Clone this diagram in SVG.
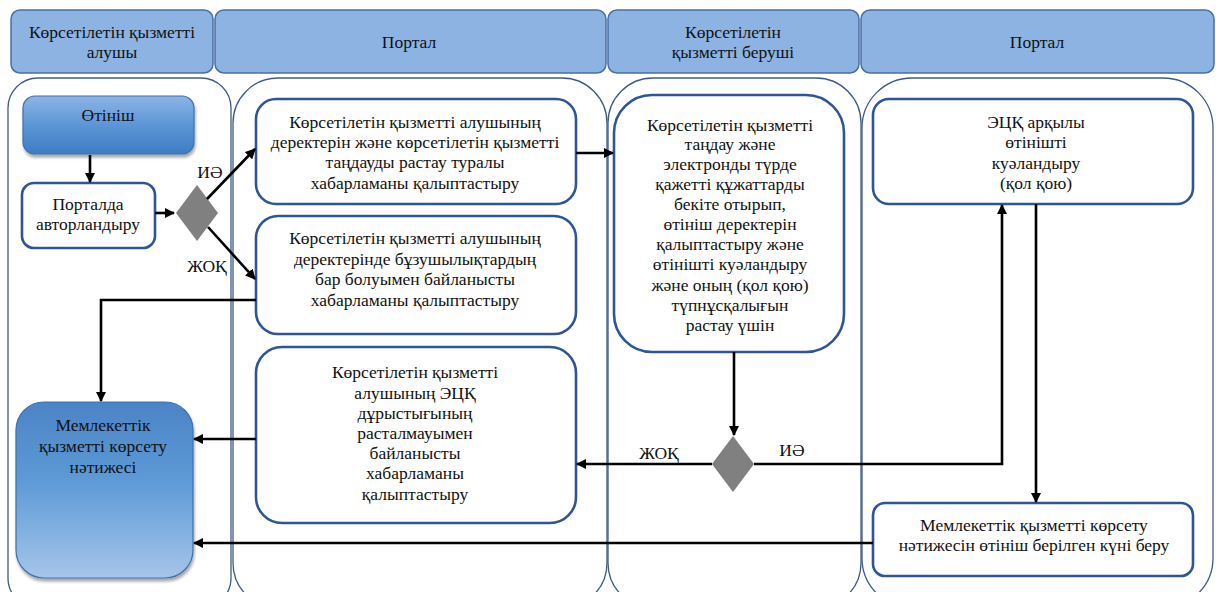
<svg xmlns="http://www.w3.org/2000/svg" width="1216" height="592" viewBox="0 0 1216 592" font-family="'Liberation Serif', 'DejaVu Serif', serif">
<style>
text{font-family:'Liberation Serif','DejaVu Serif',serif;font-size:17.5px;fill:#111;text-anchor:middle;dominant-baseline:central}
.hdr{fill:#8db3e2;stroke:#4a6fa5;stroke-width:1.5}
.lane{fill:#fff;stroke:#3e5a86;stroke-width:1.3}
.box{fill:#fff;stroke:#2f5597;stroke-width:2.6}
.dia{fill:#808080;stroke:none}
.con{fill:none;stroke:#000;stroke-width:2.6}
</style>
<defs>
<marker id="ah" viewBox="0 0 10 10" refX="9" refY="5" markerWidth="4" markerHeight="4" orient="auto" markerUnits="strokeWidth">
<path d="M0,0 L10,5 L0,10 z" fill="#000"/>
</marker>
<linearGradient id="g1" x1="0" y1="0" x2="0" y2="1">
<stop offset="0" stop-color="#8cb5e5"/>
<stop offset="0.5" stop-color="#5c96d6"/>
<stop offset="1" stop-color="#3f7cc2"/>
</linearGradient>
<linearGradient id="g2" x1="0" y1="0" x2="0" y2="1">
<stop offset="0" stop-color="#4c84c6"/>
<stop offset="0.45" stop-color="#5d9ad6"/>
<stop offset="1" stop-color="#a6c5ea"/>
</linearGradient>
<filter id="sh" x="-10%" y="-10%" width="130%" height="130%">
<feDropShadow dx="1" dy="3" stdDeviation="1.5" flood-color="#000" flood-opacity="0.35"/>
</filter>
</defs>

<g id="headers">
<rect class="hdr" x="11" y="10" width="202" height="63" rx="9"/>
<text x="112" y="32">Көрсетілетін қызметті</text>
<text x="112" y="52">алушы</text>
<rect class="hdr" x="215" y="10" width="391" height="63" rx="9"/>
<text x="409" y="42">Портал</text>
<rect class="hdr" x="608" y="10" width="251" height="63" rx="9"/>
<text x="733" y="32">Көрсетілетін</text>
<text x="733" y="52">қызметті беруші</text>
<rect class="hdr" x="861" y="10" width="353" height="63" rx="9"/>
<text x="1037" y="42">Портал</text>
</g>

<g id="lanes">
<rect class="lane" x="8" y="78" width="223" height="530" rx="30"/>
<rect class="lane" x="233" y="78" width="374" height="530" rx="45"/>
<rect class="lane" x="608" y="78" width="253" height="530" rx="45"/>
<rect class="lane" x="862" y="78" width="351" height="530" rx="50"/>
</g>

<g id="n-otinish">
<rect x="23" y="96" width="171" height="58" rx="12" fill="url(#g1)" stroke="#3d70b0" stroke-width="1.2" filter="url(#sh)"/>
<text x="108" y="115">Өтініш</text>
</g>
<g id="n-portalda">
<rect class="box" x="22" y="183" width="133" height="65" rx="12"/>
<text x="88" y="204">Порталда</text>
<text x="88" y="224">авторландыру</text>
</g>
<g id="n-d1">
<polygon class="dia" points="197,185 218,213 197,241 176,213"/>
</g>
<g id="n-result">
<rect x="16" y="402" width="177" height="176" rx="28" fill="url(#g2)" stroke="#3d70b0" stroke-width="1.2" filter="url(#sh)"/>
<text x="103" y="425">Мемлекеттік</text>
<text x="103" y="446">қызметті көрсету</text>
<text x="103" y="467">нәтижесі</text>
</g>
<g id="n-a">
<rect class="box" x="256" y="99" width="320" height="105" rx="20"/>
<text x="415" y="122">Көрсетілетін қызметті алушының</text>
<text x="415" y="142">деректерін және көрсетілетін қызметті</text>
<text x="415" y="162">таңдауды растау туралы</text>
<text x="415" y="183">хабарламаны қалыптастыру</text>
</g>
<g id="n-b">
<rect class="box" x="256" y="216" width="320" height="118" rx="22"/>
<text x="415" y="238">Көрсетілетін қызметті алушының</text>
<text x="415" y="259">деректерінде бұзушылықтардың</text>
<text x="415" y="279">бар болуымен байланысты</text>
<text x="415" y="300">хабарламаны қалыптастыру</text>
</g>
<g id="n-c">
<rect class="box" x="256" y="347" width="320" height="176" rx="26"/>
<text x="415" y="372">Көрсетілетін қызметті</text>
<text x="415" y="393">алушының ЭЦҚ</text>
<text x="415" y="413">дұрыстығының</text>
<text x="415" y="433">расталмауымен</text>
<text x="415" y="453">байланысты</text>
<text x="415" y="473">хабарламаны</text>
<text x="415" y="494">қалыптастыру</text>
</g>
<g id="n-d">
<rect class="box" x="614" y="95" width="230" height="257" rx="38"/>
<text x="730" y="125">Көрсетілетін қызметті</text>
<text x="730" y="144">таңдау және</text>
<text x="730" y="164">электронды түрде</text>
<text x="730" y="184">қажетті құжаттарды</text>
<text x="730" y="204">бекіте отырып,</text>
<text x="730" y="224">өтініш деректерін</text>
<text x="730" y="244">қалыптастыру және</text>
<text x="730" y="264">өтінішті куәландыру</text>
<text x="730" y="285">және оның (қол қою)</text>
<text x="730" y="305">түпнұсқалығын</text>
<text x="730" y="325">растау үшін</text>
</g>
<g id="n-d2">
<polygon class="dia" points="733,436 754,464 733,492 712,464"/>
</g>
<g id="n-e">
<rect class="box" x="873" y="99" width="320" height="105" rx="16"/>
<text x="1036" y="122">ЭЦҚ арқылы</text>
<text x="1036" y="142">өтінішті</text>
<text x="1036" y="163">куәландыру</text>
<text x="1036" y="183">(қол қою)</text>
</g>
<g id="n-f">
<rect class="box" x="873" y="503" width="320" height="73" rx="12"/>
<text x="1034" y="525">Мемлекеттік қызметті көрсету</text>
<text x="1034" y="545">нәтижесін өтініш берілген күні беру</text>
</g>

<g id="connectors">
<path class="con" d="M90,155 L90,182" marker-end="url(#ah)"/>
<path class="con" d="M155,213 L174,213" marker-end="url(#ah)"/>
<path class="con" d="M207,199 L255,149" marker-end="url(#ah)"/>
<path class="con" d="M208,227 L255,279" marker-end="url(#ah)"/>
<path class="con" d="M576,153 L613,153" marker-end="url(#ah)"/>
<path class="con" d="M256,300 L101,300 L101,401" marker-end="url(#ah)"/>
<path class="con" d="M256,439 L194,439" marker-end="url(#ah)"/>
<path class="con" d="M734,352 L734,435" marker-end="url(#ah)"/>
<path class="con" d="M712,464 L577,464" marker-end="url(#ah)"/>
<path class="con" d="M754,464 L1002,464 L1002,205" marker-end="url(#ah)"/>
<path class="con" d="M1036,204 L1036,502" marker-end="url(#ah)"/>
<path class="con" d="M873,543 L194,543" marker-end="url(#ah)"/>
<text x="210" y="172">ИӘ</text>
<text x="207" y="266">ЖОҚ</text>
<text x="659" y="453">ЖОҚ</text>
<text x="792" y="450">ИӘ</text>
</g>
</svg>
